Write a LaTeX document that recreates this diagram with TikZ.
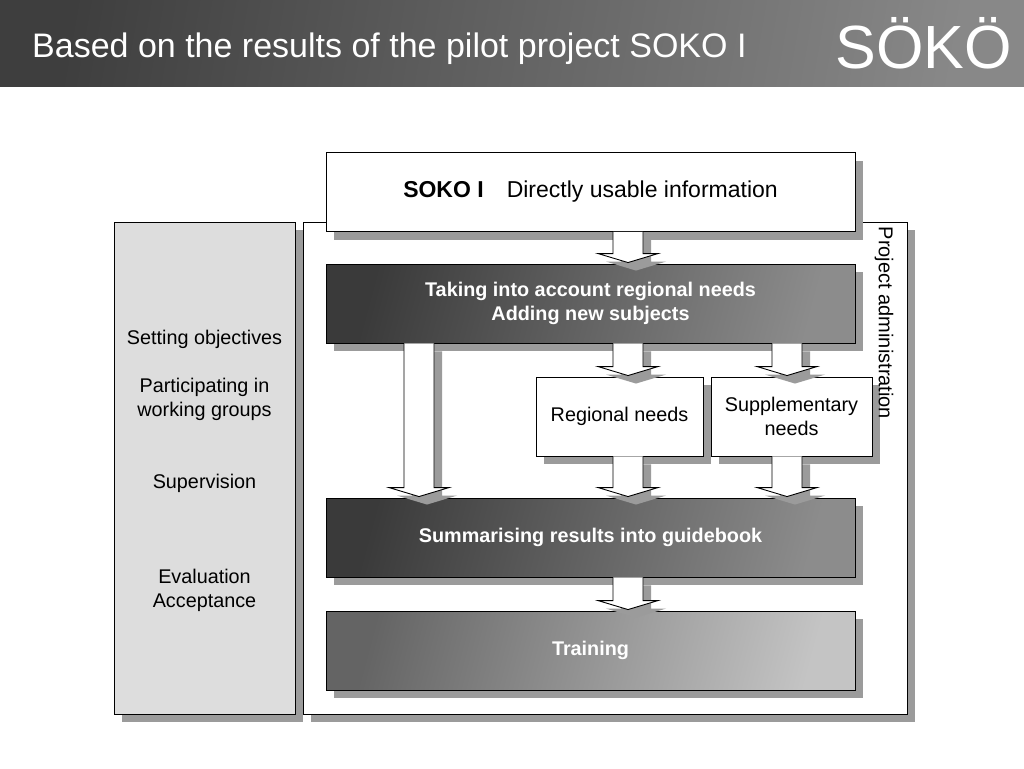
\documentclass[tikz,border=0pt]{standalone}
\usepackage{fontspec}
\setmainfont{Liberation Sans}
\usetikzlibrary{calc,shadows}
\definecolor{barleft}{HTML}{3E3E3E}
\definecolor{barright}{HTML}{888888}
\definecolor{panel}{HTML}{DDDDDD}
\definecolor{shadowgray}{HTML}{9B9B9B}
\definecolor{darkleft}{HTML}{3A3A3A}
\definecolor{darkright}{HTML}{8C8C8C}
\definecolor{lightleft}{HTML}{646464}
\definecolor{lightright}{HTML}{C4C4C4}
\tikzset{box/.style={draw=black,line width=0.9pt,fill=white,inner sep=0pt,align=center,font=\fontsize{19.8}{24}\selectfont,drop shadow={shadow xshift=8pt,shadow yshift=-8pt,fill=shadowgray,opacity=1}},wide/.style={box,minimum width=529pt,minimum height=79pt},darkbox/.style={wide,left color=darkleft,right color=darkright,shading angle=75,text=white,font=\fontsize{19.8}{24}\selectfont\bfseries},lightbox/.style={darkbox,left color=lightleft,right color=lightright,shading angle=75},smallbox/.style={box,minimum height=79pt},sidetext/.style={align=center,font=\fontsize{19.8}{24}\selectfont}}
% hollow block arrow with shadow: x position, from anchor, to anchor
\newcommand\blockarrow[3]{%
  \foreach \off/\fc/\dc in {8pt/shadowgray/none,0pt/white/black}
    \path[fill=\fc,draw=\dc,line width=0.9pt,line join=miter] let \p1=(#2), \p2=(#3), \p3=(#1,0) in
      (\x3-15pt+\off,\y1-\off) -- (\x3-15pt+\off,\y2+10pt-\off) -- (\x3-30pt+\off,\y2+10pt-\off)
      -- (\x3+\off,\y2+1pt-\off) -- (\x3+30pt+\off,\y2+10pt-\off) -- (\x3+15pt+\off,\y2+10pt-\off)
      -- (\x3+15pt+\off,\y1-\off);
}
\begin{document}
\begin{tikzpicture}[x=1pt,y=-1pt]
\useasboundingbox (0,0) rectangle (1024,768);
% title bar
\shade[left color=barleft,right color=barright,shading angle=80] (0,0) rectangle (1024,86);
\node[anchor=base west,inner sep=0pt,text=white,font=\fontsize{34}{40}\selectfont] (title) at (32,57) {Based on the results of the pilot project SOKO I};
\node[anchor=base east,inner sep=0pt,text=white,font=\fontsize{61}{70}\selectfont] (logo) at (1012,68) {SÖKÖ};
% frames
\node[box,fill=panel,minimum width=181pt,minimum height=492pt] (admin) at (204.5,468) {};
\node[box,minimum width=604pt,minimum height=492pt] (frame) at (605,468) {};
\node[sidetext] (objectives) at (204.5,339) {Setting objectives};
\node[sidetext] (groups) at (204.5,399) {Participating in\\working groups};
\node[sidetext] (supervision) at (204.5,483) {Supervision};
\node[sidetext] (evaluation) at (204.5,590) {Evaluation\\Acceptance};
% main chain
\node[wide,font=\fontsize{23}{28}\selectfont] (soko) at (590.5,192) {\textbf{SOKO I}\quad Directly usable information};
\node[darkbox] (adapt) at (590.5,303.5) {Taking into account regional needs\\Adding new subjects};
\node[smallbox,minimum width=167pt] (regional) at (619.5,416.5) {Regional needs};
\node[smallbox,minimum width=161pt] (supplement) at (791.5,416.5) {Supplementary\\needs};
\node[darkbox] (guide) at (590.5,537.5) {Summarising results into guidebook};
\node[lightbox] (training) at (590.5,650.5) {Training};
% block arrows
\blockarrow{628}{soko.south}{adapt.north}
\blockarrow{628}{adapt.south}{regional.north}
\blockarrow{787}{adapt.south}{supplement.north}
\blockarrow{419}{adapt.south}{guide.north}
\blockarrow{628}{regional.south}{guide.north}
\blockarrow{787}{supplement.south}{guide.north}
\blockarrow{628}{guide.south}{training.north}
\node[rotate=-90,font=\fontsize{20}{24}\selectfont] (projadmin) at (884,323) {Project administration};
\end{tikzpicture}
\end{document}
